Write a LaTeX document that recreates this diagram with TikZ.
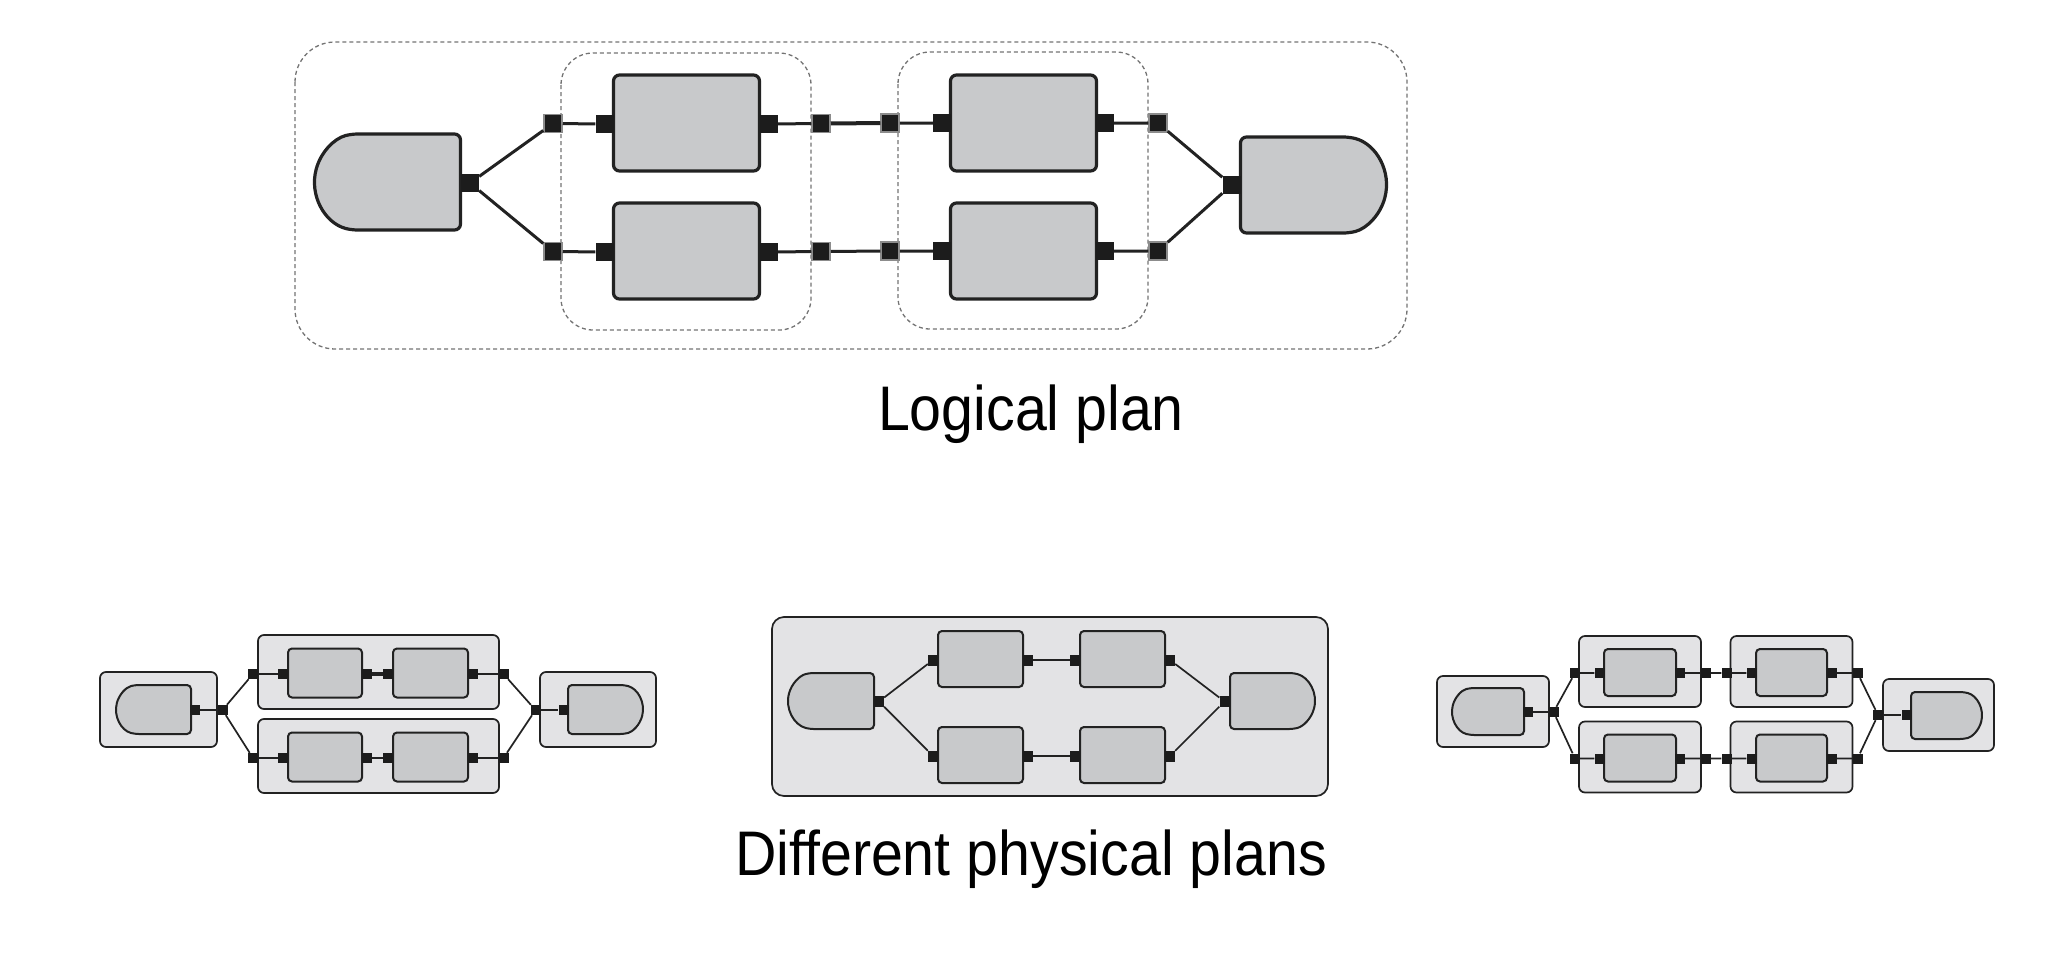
\documentclass[tikz,border=0pt]{standalone}
\usepackage{fontspec}
\newfontfamily\capfont{Liberation Sans}[FakeStretch=0.91]
\usetikzlibrary{shapes.misc}
\definecolor{opfill}{HTML}{C8C9CB}
\definecolor{boxfill}{HTML}{E3E3E5}
\definecolor{edge}{HTML}{222222}
\definecolor{portc}{HTML}{1C1C1C}
\begin{document}
\begin{tikzpicture}
[x=1pt, y=-1pt,
 op/.style={draw=edge, fill=opfill, line width=2, rounded corners=4, inner sep=0},
 bigop/.style={op, line width=3.2, rounded corners=6, minimum width=146, minimum height=96},
 cont/.style={draw=edge, fill=boxfill, line width=1.7, rounded corners=6, inner sep=0},
 srcD/.style={rounded rectangle, rounded rectangle right arc=none, rounded rectangle arc length=150},
 snkD/.style={rounded rectangle, rounded rectangle left arc=none, rounded rectangle arc length=150},
 port/.style={fill=portc, inner sep=0, minimum size=#1}, port/.default=10,
 xport/.style={port=18, draw=black!45, line width=1.5},
 grp/.style={draw=black!55, line width=1.3, dash pattern=on 4 off 3},
 wire/.style={draw=edge, line width=3},
 thinwire/.style={draw=edge, line width=1.7},
 plantitle/.style={font=\capfont\fontsize{63}{70}\selectfont, inner sep=0, anchor=base}]
\useasboundingbox (0,0) rectangle (2062,970);

\draw[grp, rounded corners=40] (295,42) rectangle (1407,349);
\draw[grp, rounded corners=32] (561,53) rectangle (811,330);
\draw[grp, rounded corners=32] (898,52) rectangle (1148,329);
\node[bigop, srcD] (src) at (387.5,182) {};
\node[bigop, snkD] (snk) at (1313.5,185) {};
\node[port=18] (srcp) at (470,183) {};
\node[port=18] (snkp) at (1231.5,185) {};
\foreach \r/\y in {1/123, 2/251} {
  \node[bigop] (a\r) at (686.5,\y) {};
  \node[bigop] (b\r) at (1023.5,\y) {};
  \node[port=18] (ai\r) at (604.5,\y+1) {};
  \node[port=18] (ao\r) at (769,\y+1) {};
  \node[port=18] (bi\r) at (942,\y) {};
  \node[port=18] (bo\r) at (1105,\y) {};
  \node[xport] (fa\r) at (553,\y+0.5) {};
  \node[xport] (fb\r) at (821,\y+0.5) {};
  \node[xport] (fc\r) at (890,\y) {};
  \node[xport] (fd\r) at (1158,\y) {};
  \draw[wire] (srcp) -- (fa\r) (fa\r) -- (ai\r) (ao\r) -- (fb\r) (fc\r) -- (bi\r) (bo\r) -- (fd\r) (fd\r) -- (snkp);
}
\draw[wire, line width=4] (fb1) -- (fc1);
\draw[wire] (fb2) -- (fc2);
\node[plantitle] (logical) at (1031,430) {Logical plan};

\node[cont, minimum width=117, minimum height=75] (Lsc) at (158.5,709.5) {};
\node[op, srcD, minimum width=75, minimum height=49] (Lsrc) at (153.5,709.5) {};
\node[port] (Lsp) at (195,710) {};
\node[port] (Ljp) at (222.5,710) {};
\node[cont, minimum width=116, minimum height=75] (Lkc) at (598,709.5) {};
\node[op, snkD, minimum width=75, minimum height=49] (Lsnk) at (605.5,709.5) {};
\node[port] (Lkp) at (563.5,710) {};
\node[port] (Ltp) at (535.5,710) {};
\draw[thinwire] (Lsp) -- (Ljp) (Ltp) -- (Lkp);
\foreach \r/\y in {1/672, 2/756} {
  \node[cont, minimum width=241, minimum height=74] (Lc\r) at (378.5,\y) {};
  \node[op, minimum width=74, minimum height=49] (Lx\r) at (325,\y+1) {};
  \node[op, minimum width=75, minimum height=49] (Ly\r) at (430.5,\y+1) {};
  \node[port] (Lci\r) at (253,\y+2) {};
  \node[port] (Lxi\r) at (283,\y+2) {};
  \node[port] (Lxo\r) at (366.5,\y+2) {};
  \node[port] (Lyi\r) at (388,\y+2) {};
  \node[port] (Lyo\r) at (473,\y+2) {};
  \node[port] (Lco\r) at (503.5,\y+2) {};
  \draw[thinwire] (Ljp) -- (Lci\r) (Lci\r) -- (Lxi\r) (Lyo\r) -- (Lco\r) (Lco\r) -- (Ltp);
}
\draw[thinwire, line width=3.2] (Lxo1) -- (Lyi1);
\draw[thinwire] (Lxo2) -- (Lyi2);

\node[cont, rounded corners=12, minimum width=556, minimum height=179] (Mc) at (1050,706.5) {};
\node[op, srcD, minimum width=86, minimum height=56] (Msrc) at (831,701) {};
\node[port, minimum height=11] (Msp) at (879,701.5) {};
\node[op, snkD, minimum width=85, minimum height=56] (Msnk) at (1272.5,701) {};
\node[port, minimum height=11] (Mtp) at (1224.5,701.5) {};
\foreach \r/\y in {1/659, 2/755} {
  \node[op, minimum width=85, minimum height=56] (Mx\r) at (980.5,\y) {};
  \node[op, minimum width=85, minimum height=56] (My\r) at (1122.5,\y) {};
  \node[port, minimum height=11] (Mxi\r) at (933,\y+1) {};
  \node[port, minimum height=11] (Mxo\r) at (1028,\y+1) {};
  \node[port, minimum height=11] (Myi\r) at (1075,\y+1) {};
  \node[port, minimum height=11] (Myo\r) at (1170,\y+1) {};
  \draw[thinwire] (Msp) -- (Mxi\r) (Mxo\r) -- (Myi\r) (Myo\r) -- (Mtp);
}
\node[plantitle] (physical) at (1031,875) {Different physical plans};

\node[cont, minimum width=112, minimum height=71] (Rsc) at (1493,711.5) {};
\node[op, srcD, minimum width=72, minimum height=47] (Rsrc) at (1488,711.5) {};
\node[port] (Rsp) at (1528,712) {};
\node[port] (Rjp) at (1553.5,712) {};
\node[cont, minimum width=111, minimum height=72] (Rkc) at (1938.5,715) {};
\node[op, snkD, minimum width=71, minimum height=47] (Rsnk) at (1946.5,715.5) {};
\node[port] (Rkp) at (1906.5,715) {};
\node[port] (Rtp) at (1878,715) {};
\draw[thinwire] (Rsp) -- (Rjp) (Rtp) -- (Rkp);
\foreach \r/\y in {1/671.5, 2/757} {
  \node[cont, minimum width=122, minimum height=71] (Rc\r) at (1640,\y) {};
  \node[cont, minimum width=122, minimum height=71] (Rd\r) at (1791.5,\y) {};
  \node[op, minimum width=72, minimum height=47] (Rx\r) at (1640,\y+1) {};
  \node[op, minimum width=71, minimum height=47] (Ry\r) at (1791.5,\y+1) {};
  \node[port] (Rci\r) at (1575,\y+1.5) {};
  \node[port] (Rxi\r) at (1599.5,\y+1.5) {};
  \node[port] (Rxo\r) at (1680,\y+1.5) {};
  \node[port] (Rco\r) at (1705.5,\y+1.5) {};
  \node[port] (Rdi\r) at (1726.5,\y+1.5) {};
  \node[port] (Ryi\r) at (1751.5,\y+1.5) {};
  \node[port] (Ryo\r) at (1831.5,\y+1.5) {};
  \node[port] (Rdo\r) at (1857.5,\y+1.5) {};
  \draw[thinwire] (Rjp) -- (Rci\r) (Rci\r) -- (Rxi\r) (Rxo\r) -- (Rco\r) (Rco\r) -- (Rdi\r)
    (Rdi\r) -- (Ryi\r) (Ryo\r) -- (Rdo\r) (Rdo\r) -- (Rtp);
}
\end{tikzpicture}
\end{document}
